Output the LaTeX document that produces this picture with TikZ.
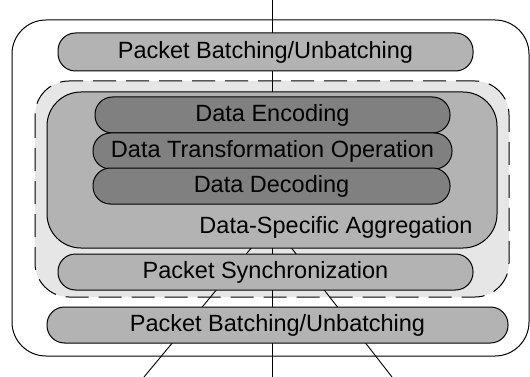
\documentclass[tikz,border=0pt]{standalone}
\usepackage{fontspec}
\setmainfont{Liberation Sans}
\definecolor{lightfill}{HTML}{E6E6E6}
\definecolor{midfill}{HTML}{B3B3B3}
\definecolor{darkfill}{HTML}{808080}
\tikzset{
	layer/.style={draw, line width=1pt, rectangle, rounded corners=17.5pt, inner sep=0pt,
		fill=midfill, font=\fontsize{23.5}{27}\selectfont},
	datalayer/.style={layer, fill=darkfill},
	link/.style={line width=0.9pt}
}

\begin{document}
\begin{tikzpicture}[x=1pt,y=-1pt]
	\useasboundingbox (0,0) rectangle (530,377);
	% node frame and the aggregation area
	\draw[line width=1pt, rounded corners=34pt] (12,20) rectangle (529,356);
	\draw[line width=1pt, dash pattern=on 23pt off 10pt, fill=lightfill, rounded corners=34pt] (35,81) rectangle (509,297);
	% links, hidden behind the layers
	\coordinate (hub) at (272,223);
	\coordinate (up) at (272,0);
	\coordinate (downl) at (144,377);
	\coordinate (downm) at (272,377);
	\coordinate (downr) at (392,377);
	\draw[link] (up) -- (hub);
	\draw[link] (hub) -- (downl);
	\draw[link] (hub) -- (downm);
	\draw[link] (hub) -- (downr);
	% layers
	\node[layer, minimum width=415pt, minimum height=38pt] (topbatch) at (265.5,52) {Packet Batching/Unbatching};
	\node[layer, rounded corners=34pt, minimum width=450pt, minimum height=156pt] (agg) at (272,170) {};
	\node[datalayer, minimum width=355pt, minimum height=36pt] (enc) at (272.5,115) {Data Encoding};
	\node[datalayer, minimum width=359pt, minimum height=36pt] (trans) at (272.5,151) {Data Transformation Operation};
	\node[datalayer, minimum width=357pt, minimum height=36pt] (dec) at (271.5,186) {Data Decoding};
	\node[font=\fontsize{23.5}{27}\selectfont] (agglabel) at (336,227) {Data-Specific Aggregation};
	\node[layer, minimum width=415pt, minimum height=36pt] (sync) at (265.5,272) {Packet Synchronization};
	\node[layer, minimum width=461pt, minimum height=36pt] (botbatch) at (277.5,325) {Packet Batching/Unbatching};
\end{tikzpicture}
\end{document}
